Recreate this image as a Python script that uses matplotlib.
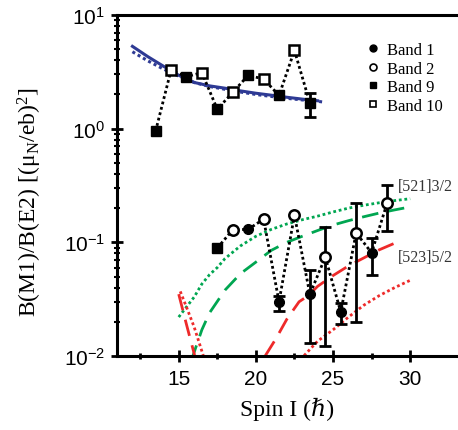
import numpy as np
import matplotlib
matplotlib.use("Agg")
import matplotlib.pyplot as plt
from matplotlib.lines import Line2D
from matplotlib.ticker import FixedLocator, FuncFormatter, LogLocator, NullFormatter

plt.rcParams['mathtext.fontset'] = 'custom'
plt.rcParams['mathtext.rm'] = 'Liberation Serif'
plt.rcParams['mathtext.it'] = 'Liberation Serif:italic'
plt.rcParams['mathtext.sf'] = 'Liberation Sans'

# --- measured ratios, upper branch (bands 9 & 10) ---
band9_spin = [13.5, 15.5, 17.5, 19.5, 21.5, 23.5]
band9_val = [0.95, 2.87, 1.48, 2.94, 1.96, 1.68]
band9_lo = [0.95, 2.87, 1.48, 2.94, 1.96, 1.27]
band9_hi = [0.95, 2.87, 1.48, 2.94, 1.96, 2.06]

band10_spin = [14.5, 16.5, 18.5, 20.5, 22.5]
band10_val = [3.26, 3.11, 2.09, 2.74, 4.88]

# --- lower branch (bands 1 & 2, plus one band 9 point) ---
band9b_spin = [17.5]
band9b_val = [0.089]

band1_spin = [19.5, 21.5, 23.5, 25.5, 27.5]
band1_val = [0.130, 0.030, 0.035, 0.0244, 0.081]
band1_lo = [0.130, 0.025, 0.013, 0.019, 0.052]
band1_hi = [0.130, 0.034, 0.057, 0.029, 0.109]

band2_spin = [18.5, 20.5, 22.5, 24.5, 26.5, 28.5]
band2_val = [0.129, 0.160, 0.173, 0.074, 0.121, 0.220]
band2_lo = [0.129, 0.160, 0.173, 0.0122, 0.020, 0.125]
band2_hi = [0.129, 0.160, 0.173, 0.137, 0.224, 0.317]

# --- calculations ---
blue_solid_spin = [12, 13, 14, 15, 16, 17, 18, 19, 20, 21, 22, 23, 24]
blue_solid_val = [5.3, 4.3, 3.55, 2.95, 2.55, 2.38, 2.27, 2.15, 2.05, 1.97, 1.89, 1.82, 1.76]
blue_dot_spin = [12, 13, 14, 15, 16, 17, 18, 19, 20, 21, 22, 23, 24, 24.3]
blue_dot_val = [4.75, 3.95, 3.35, 2.9, 2.55, 2.35, 2.22, 2.1, 2.0, 1.92, 1.85, 1.79, 1.74, 1.72]

green_dot_spin = [15.0, 15.5, 16.0, 16.5, 17, 17.5, 18, 19, 20, 21, 22, 23, 24, 25, 26, 27, 28, 29, 30]
green_dot_val = [0.022, 0.027, 0.033, 0.043, 0.052, 0.060, 0.072, 0.093, 0.113, 0.130, 0.145,
                 0.158, 0.170, 0.185, 0.200, 0.212, 0.223, 0.233, 0.242]
green_dash_spin = [15.8, 16.5, 17, 18, 19, 20, 21, 22, 23, 24, 25, 26, 27, 28, 29, 30]
green_dash_val = [0.009, 0.017, 0.024, 0.038, 0.053, 0.067, 0.085, 0.100, 0.113, 0.127, 0.142,
                  0.155, 0.168, 0.181, 0.193, 0.205]

red_dash_spin = [15.0, 15.5, 16.0, 16.5, 17, 18, 19, 20, 20.6, 21.3, 22, 22.8, 23.4, 24, 25,
                 26, 27, 28, 29.2]
red_dash_val = [0.035, 0.019, 0.0105, 0.0055, 0.003, 0.001, 0.002, 0.006, 0.010, 0.0142, 0.021,
                0.030, 0.034, 0.041, 0.051, 0.062, 0.073, 0.086, 0.101]
red_dot_spin = [15.1, 15.5, 16.0, 16.6, 17, 18, 20, 22, 23.1, 24, 25, 26, 27, 28, 29, 30.1]
red_dot_val = [0.037, 0.027, 0.018, 0.010, 0.007, 0.003, 0.002, 0.004, 0.010, 0.0135, 0.017,
               0.022, 0.028, 0.034, 0.040, 0.047]

blue = '#2e3a94'
green = '#00a651'
red = '#ee2a2a'

fig = plt.figure(figsize=(4.58, 4.31), dpi=100)
ax = fig.add_axes([117 / 458, 1 - 357 / 431, 341 / 458, 341 / 431])

# theory curves
ax.plot(blue_solid_spin, blue_solid_val, color=blue, lw=2.2, zorder=2)
ax.plot(blue_dot_spin, blue_dot_val, color=blue, lw=2.2, ls=(0, (1, 1)), zorder=2)
ax.plot(green_dot_spin, green_dot_val, color=green, lw=2.0, ls=(0, (1, 1)), zorder=2)
ax.plot(green_dash_spin, green_dash_val, color=green, lw=2.0, ls=(0, (6, 3.5)), zorder=2)
ax.plot(red_dash_spin, red_dash_val, color=red, lw=2.0, ls=(0, (6, 3.5)), zorder=2)
ax.plot(red_dot_spin, red_dot_val, color=red, lw=2.0, ls=(0, (1, 1)), zorder=2)

# dotted guide through the points in spin order
def chain(*sets):
    pts = sorted(p for s, v in sets for p in zip(s, v))
    return [p[0] for p in pts], [p[1] for p in pts]

xs, ys = chain((band9_spin, band9_val), (band10_spin, band10_val))
ax.plot(xs, ys, color='black', lw=2.0, ls=(0, (1, 1)), zorder=3)
xs, ys = chain((band9b_spin, band9b_val), (band1_spin, band1_val), (band2_spin, band2_val))
ax.plot(xs, ys, color='black', lw=2.0, ls=(0, (1, 1)), zorder=3)

def err(spin, val, lo, hi):
    # only points that carry an uncertainty get a bar
    s, v, l, h = (np.array(a) for a in (spin, val, lo, hi))
    keep = (h - l) > 0
    ax.errorbar(s[keep], v[keep], yerr=[v[keep] - l[keep], h[keep] - v[keep]], fmt='none',
                ecolor='black', elinewidth=2, capsize=4, capthick=2, zorder=4)

err(band9_spin, band9_val, band9_lo, band9_hi)
err(band1_spin, band1_val, band1_lo, band1_hi)
err(band2_spin, band2_val, band2_lo, band2_hi)

ax.plot(band9_spin, band9_val, 's', ms=7, mfc='black', mec='black', zorder=5)
ax.plot(band10_spin, band10_val, 's', ms=7, mfc='white', mec='black', mew=1.8, zorder=5)
ax.plot(band9b_spin, band9b_val, 's', ms=7, mfc='black', mec='black', zorder=5)
ax.plot(band1_spin, band1_val, 'o', ms=7, mfc='black', mec='black', zorder=5)
ax.plot(band2_spin, band2_val, 'o', ms=7.5, mfc='white', mec='black', mew=1.8, zorder=5)

ax.text(29.2, 0.315, '[521]3/2', fontsize=11.5, family='Liberation Serif', color='#333333', va='center')
ax.text(29.2, 0.0748, '[523]5/2', fontsize=11.5, family='Liberation Serif', color='#333333', va='center')

handles = [
    Line2D([], [], ls='none', marker='o', ms=5, mfc='black', mec='black'),
    Line2D([], [], ls='none', marker='o', ms=5, mfc='white', mec='black', mew=1.2),
    Line2D([], [], ls='none', marker='s', ms=5, mfc='black', mec='black'),
    Line2D([], [], ls='none', marker='s', ms=5, mfc='white', mec='black', mew=1.2),
]
ax.legend(handles, ['Band 1', 'Band 2', 'Band 9', 'Band 10'], loc='upper left',
          bbox_to_anchor=(0.71, 0.945), frameon=False, handlelength=0.7, handletextpad=0.45,
          labelspacing=0.15, borderpad=0, prop={'family': 'Liberation Serif', 'size': 12})

ax.set_yscale('log')
ax.set_ylim(0.01, 10)
ax.set_xlim(11, 33.1)

ax.xaxis.set_major_locator(FixedLocator([15, 20, 25, 30]))
ax.xaxis.set_minor_locator(FixedLocator([12.5, 17.5, 22.5, 27.5]))
ax.yaxis.set_major_locator(FixedLocator([0.01, 0.1, 1, 10]))
ax.yaxis.set_minor_locator(LogLocator(base=10, subs=np.arange(2, 10)))
ax.yaxis.set_minor_formatter(NullFormatter())
ax.yaxis.set_major_formatter(FuncFormatter(
    lambda v, p: r'$\mathsf{10^{%d}}$' % int(round(np.log10(v)))))

for lab in ax.get_xticklabels():
    lab.set_family('Liberation Sans')
ax.tick_params(axis='x', which='major', direction='inout', length=9, width=2, labelsize=15, pad=5)
ax.tick_params(axis='x', which='minor', direction='inout', length=4, width=2)
ax.tick_params(axis='y', which='major', direction='inout', length=9, width=2, labelsize=15, pad=4)
ax.tick_params(axis='y', which='minor', direction='inout', length=4, width=1.5)
ax.tick_params(top=False, right=False, which='both')

for side in ['left', 'bottom', 'top']:
    ax.spines[side].set_linewidth(2.2)
ax.spines['right'].set_visible(False)

ax.set_xlabel('Spin I (ℏ)', fontsize=17, family=['Liberation Serif', 'DejaVu Serif'], labelpad=6)
ax.set_ylabel(r'B(M1)/B(E2) [(μ$_{\rm N}$/eb)$^2$]', fontsize=17, family='Liberation Serif')
ax.yaxis.set_label_coords(-0.215, 0.455)

fig.savefig('out.png', dpi=100)
